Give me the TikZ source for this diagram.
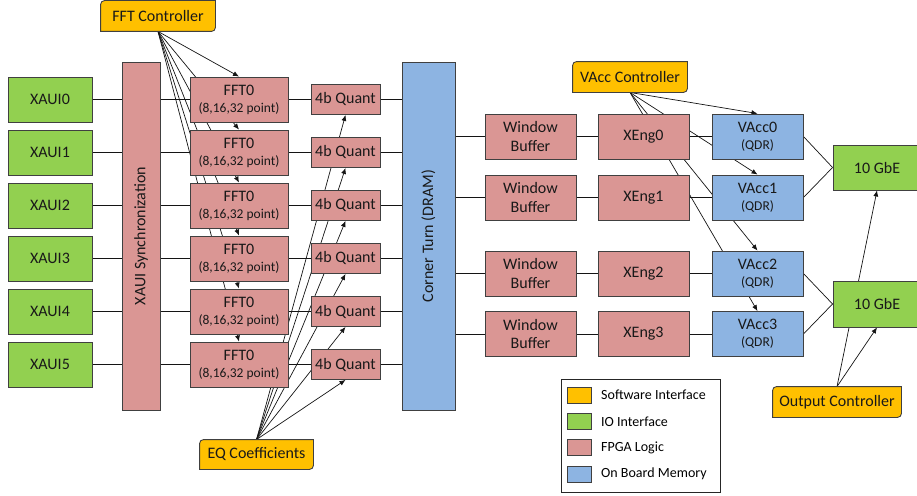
\documentclass[tikz,border=0pt]{standalone}
\usepackage{fontspec}
\setmainfont{Carlito}
\usetikzlibrary{arrows.meta,backgrounds}
\definecolor{sw}{RGB}{255,192,0}
\definecolor{io}{RGB}{146,208,80}
\definecolor{fpga}{RGB}{218,150,148}
\definecolor{mem}{RGB}{141,180,226}
\definecolor{rim}{RGB}{64,64,64}
\definecolor{wire}{RGB}{20,20,20}
\newcommand{\subtxt}[1]{{\fontsize{13.5}{15}\selectfont #1}}
\newcommand{\swoutline}[1]{%
  \draw[swfill] (#1.south west) -- ([yshift=-4pt]#1.north west)
    arc[start angle=180,end angle=90,radius=4pt] -- (#1.north east)
    -- ([yshift=4pt]#1.south east)
    arc[start angle=0,end angle=-90,radius=4pt] -- cycle;}
\tikzset{
  blk/.style={draw=rim,line width=0.9pt,inner sep=0pt,align=center,
    text=black!90,font=\fontsize{16}{18.5}\selectfont},
  iobox/.style={blk,fill=io},
  fpbox/.style={blk,fill=fpga},
  membox/.style={blk,fill=mem},
  swbox/.style={blk,draw=none},
  swfill/.style={draw=rim,fill=sw,line width=0.9pt},
  link/.style={wire,line width=0.7pt},
  ctrl/.style={link,-{Latex[length=6pt,width=5pt]}},
  keytxt/.style={anchor=west,inner sep=0pt,font=\fontsize{14}{16}\selectfont},
}

\begin{document}
\begin{tikzpicture}[x=1pt,y=-1pt]
  \useasboundingbox (0,0) rectangle (917,495);
  % controllers
  \node[swbox,minimum width=114pt,minimum height=30pt] (fftc) at (158,16) {FFT Controller};
  \node[swbox,minimum width=113pt,minimum height=29pt] (eq) at (256.5,454.5) {EQ Coefficients};
  \node[swbox,minimum width=114pt,minimum height=30pt] (vac) at (630,77) {VAcc Controller};
  \node[swbox,minimum width=128pt,minimum height=30pt] (outc) at (837,402) {Output Controller};
  % tall blocks
  \node[fpbox,rotate=90,minimum width=348pt,minimum height=38pt] (sync) at (141,236) {XAUI Synchronization};
  \node[membox,rotate=90,minimum width=348pt,minimum height=53pt] (ct) at (428.5,236) {Corner Turn (DRAM)};
  % input rows
  \foreach \i [evaluate=\i as \ry using 99.5+53*\i] in {0,...,5} {
    \node[iobox,minimum width=84pt,minimum height=45pt] (xaui\i) at (50,\ry) {XAUI\i};
    \node[fpbox,minimum width=98pt,minimum height=45pt] (fft\i) at (239,\ry) {FFT0\\[-1.5pt]\subtxt{(8,16,32 point)}};
    \node[fpbox,minimum width=69pt,minimum height=30pt] (q\i) at (345.5,\ry) {4b Quant};
  }
  % correlator rows
  \foreach \ry [count=\j from 0] in {136.5,197.5,273.5,334} {
    \node[fpbox,minimum width=91pt,minimum height=45pt] (wb\j) at (530.5,\ry) {Window\\Buffer};
    \node[fpbox,minimum width=91pt,minimum height=45pt] (xe\j) at (643.5,\ry) {XEng\j};
    \node[membox,minimum width=91pt,minimum height=45pt] (va\j) at (757.5,\ry) {VAcc\j\\[-1.5pt]\subtxt{(QDR)}};
  }
  \node[iobox,minimum width=88pt,minimum height=45pt] (gbe0) at (877,167.5) {10 GbE};
  \node[iobox,minimum width=88pt,minimum height=46pt] (gbe1) at (877,304) {10 GbE};
  % legend
  \node[draw=black!85,line width=0.8pt,minimum width=159pt,minimum height=113pt] (key) at (640.5,435.5) {};
  \foreach \c/\t [count=\k from 0,evaluate=\k as \ky using 395+26.3*\k] in
      {sw/Software Interface,io/IO Interface,fpga/FPGA Logic,mem/On Board Memory} {
    \node[blk,fill=\c,line width=0.8pt,minimum width=24pt,minimum height=16pt] (sw\k) at (579,\ky) {};
    \node[keytxt] (kt\k) at (601,\ky) {\t};
  }
  \begin{scope}[on background layer]
    \foreach \i in {0,...,5} {
      \draw[link] (xaui\i) -- (xaui\i -| sync.north);
      \draw[link] (sync.south |- fft\i) -- (fft\i);
      \draw[link] (fft\i) -- (q\i);
      \draw[link] (q\i) -- (q\i -| ct.north);
      \draw[ctrl] (fftc.south) -- (fft\i.north);
      \draw[ctrl] (eq.north) -- (q\i.south);
    }
    \foreach \j in {0,...,3} {
      \draw[link] (ct.south |- wb\j) -- (wb\j);
      \draw[link] (wb\j) -- (xe\j);
      \draw[link] (xe\j) -- (va\j);
      \draw[ctrl] (vac.south) -- (va\j.north);
    }
    \draw[link] (va0.east) -- (gbe0.west);
    \draw[link] (va1.east) -- (gbe0.west);
    \draw[link] (va2.east) -- (gbe1.west);
    \draw[link] (va3.east) -- (gbe1.west);
    \draw[ctrl] (outc.north) -- (gbe0.south);
    \draw[ctrl] (outc.north) -- (gbe1.south);
    \foreach \n in {fftc,eq,vac,outc} {\swoutline{\n}}
  \end{scope}
\end{tikzpicture}
\end{document}
